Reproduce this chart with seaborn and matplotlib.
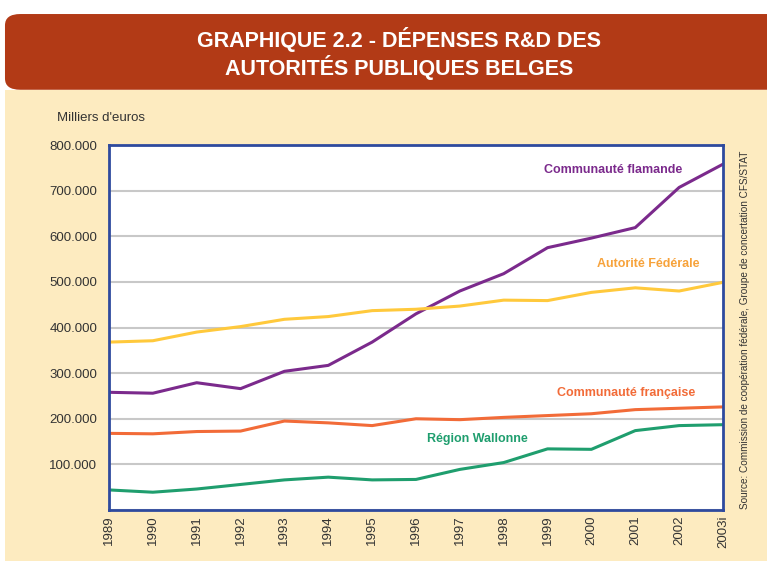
import numpy as np
import pandas as pd
import matplotlib
matplotlib.use('Agg')
import matplotlib.pyplot as plt
import seaborn as sns
from matplotlib.patches import FancyBboxPatch, Rectangle
from matplotlib.ticker import FuncFormatter

years = ["1989", "1990", "1991", "1992", "1993", "1994", "1995", "1996",
         "1997", "1998", "1999", "2000", "2001", "2002", "2003i"]
flamande = [258, 256, 279, 266, 304, 317, 368, 430, 480, 518, 575, 596, 619, 707, 758]
federale = [368, 371, 390, 402, 418, 424, 437, 440, 447, 460, 459, 477, 487, 480, 499]
francaise = [168, 167, 172, 173, 195, 191, 185, 200, 198, 203, 207, 211, 220, 223, 226]
wallonne = [44, 39, 46, 56, 66, 72, 66, 67, 89, 104, 134, 133, 174, 185, 187]

series = ["Communauté flamande", "Autorité Fédérale", "Communauté française", "Région Wallonne"]
line_colors = ["#7B2A8C", "#FFC93C", "#F26B38", "#1F9E6E"]
label_colors = ["#7B2A8C", "#F7A23A", "#F26B38", "#1F9E6E"]

rows = []
for name, vals in zip(series, [flamande, federale, francaise, wallonne]):
    for i, v in enumerate(vals):
        rows.append({"pos": i, "serie": name, "valeur": v * 1000})
df = pd.DataFrame(rows)

sns.set_style("white")
plt.rcParams['font.family'] = ['Liberation Sans', 'DejaVu Sans']

fig = plt.figure(figsize=(7.67, 5.61), dpi=100)
fig.patch.set_facecolor("white")

# cream background + brown title banner
fig.patches.append(Rectangle((0.0065, 0.0), 0.9935, 0.84, transform=fig.transFigure,
                             facecolor="#FDEBC0", edgecolor="none", zorder=-2))
fig.patches.append(FancyBboxPatch((0.0065, 0.84), 1.2, 0.135, transform=fig.transFigure,
                                  boxstyle="round,pad=0,rounding_size=0.02",
                                  facecolor="#B23A16", edgecolor="none", zorder=-2))
fig.text(0.52, 0.929, "GRAPHIQUE 2.2 - DÉPENSES R&D DES", color="white",
         fontsize=15.5, fontweight="bold", ha="center", va="center")
fig.text(0.52, 0.879, "AUTORITÉS PUBLIQUES BELGES", color="white",
         fontsize=15.5, fontweight="bold", ha="center", va="center")

ax = fig.add_axes([0.1421, 0.0909, 0.8005, 0.6506])
ax.set_zorder(2)
ax.set_facecolor("white")
sns.lineplot(data=df, x="pos", y="valeur", hue="serie", palette=line_colors,
             hue_order=series, linewidth=2.2, legend=False, ax=ax)

ax.set_xlim(0, len(years) - 1)
ax.set_ylim(0, 800000)
ax.set_yticks(np.arange(0, 800001, 100000))
ax.yaxis.set_major_formatter(FuncFormatter(lambda v, p: "" if v == 0 else f"{int(v):,}".replace(",", ".")))
ax.set_xticks(range(len(years)))
ax.set_xticklabels(years, rotation=90)
ax.grid(axis="y", color="#C8C8C8", linewidth=1.5)
ax.set_axisbelow(True)
for s in ax.spines.values():
    s.set_color("#2E4A9E")
    s.set_linewidth(2)
ax.tick_params(axis="y", colors="#2E4A9E", length=5, width=2, labelcolor="#333333", labelsize=9.5)
ax.tick_params(axis="x", length=0, labelcolor="#333333", labelsize=9.5, pad=4)
ax.set_xlabel("")
ax.set_ylabel("")

fig.text(0.074, 0.79, "Milliers d'euros", fontsize=9.5, color="#333333", ha="left", va="center")

# series labels
label_pos = [(11.5, 745000), (12.3, 539000), (11.8, 256000), (8.4, 156000)]
for name, col, (x, y) in zip(series, label_colors, label_pos):
    ax.text(x, y, name, color=col, fontsize=9, fontweight="bold", ha="center", va="center")

fig.text(0.971, 0.412, "Source: Commission de coopération fédérale, Groupe de concertation CFS/STAT",
         rotation=90, fontsize=7.2, color="#333333", ha="center", va="center")

fig.savefig("out.png", dpi=100)
